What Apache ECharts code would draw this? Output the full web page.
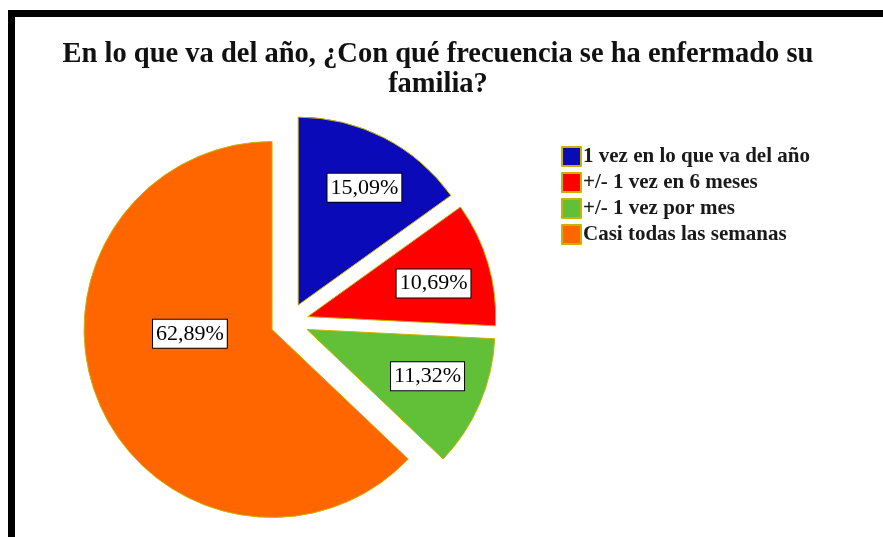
<!DOCTYPE html>
<html>
<head>
<meta charset="utf-8">
<script src="https://cdn.jsdelivr.net/npm/echarts@6/dist/echarts.min.js"></script>
<style>
html, body { margin: 0; padding: 0; background: #fff; }
#wrap { position: relative; width: 883px; height: 537px; overflow: hidden; }
/* marco negro: solo arriba e izquierda, la imagen esta recortada */
#frame { position: absolute; left: 8px; top: 10px; width: 900px; height: 600px;
         border-top: 7px solid #000; border-left: 7px solid #000; }
#chart { position: absolute; left: 0; top: 0; width: 883px; height: 537px; }
</style>
</head>
<body>
<div id="wrap">
  <div id="frame"></div>
  <div id="chart"></div>
</div>
<script>
// datos
const categories = ['1 vez en lo que va del año', '+/- 1 vez en 6 meses', '+/- 1 vez por mes', 'Casi todas las semanas'];
const percents = [15.09, 10.69, 11.32, 62.89];
const colors = ['#0a0ab8', '#ff0000', '#62bf38', '#ff6600'];

// layout
const pieCenter = [289.5, 322];
const labelScale = [1.36, 1.32, 1.33, 1.0];
const labelDy = [0, 3, -4, -34];
const labelDx = [6, 3, 2, 7];

const chart = echarts.init(document.getElementById('chart'));
chart.setOption({
    animation: false,
    title: {
        text: 'En lo que va del año, ¿Con qué frecuencia se ha enfermado su\nfamilia?',
        left: 433,
        top: 35,
        textAlign: 'center',
        textStyle: {
            fontFamily: 'Liberation Serif',
            fontWeight: 'bold',
            fontSize: 28.5,
            lineHeight: 30,
            color: '#111'
        }
    },
    legend: {
        orient: 'vertical',
        left: 561,
        top: 146,
        padding: 0,
        itemWidth: 19,
        itemHeight: 19,
        itemGap: 5,
        icon: 'rect',
        selectedMode: false,
        textStyle: {
            fontFamily: 'Liberation Serif',
            fontWeight: 'bold',
            fontSize: 21,
            color: '#1a1a1a',
            padding: [0, 0, 0, -3]
        },
        data: categories
    },
    series: [
        {
            type: 'pie',
            center: pieCenter,
            radius: 188,
            startAngle: 90,
            clockwise: true,
            selectedMode: 'multiple',
            selectedOffset: 19,
            avoidLabelOverlap: false,
            itemStyle: {
                borderColor: '#c8b400',
                borderWidth: 1
            },
            emphasis: { disabled: true },
            label: {
                position: 'inside',
                formatter: function (p) {
                    return p.value.toFixed(2).replace('.', ',') + '%';
                },
                fontFamily: 'Liberation Serif',
                fontSize: 22,
                color: '#000',
                backgroundColor: '#fff',
                borderColor: '#000',
                borderWidth: 1,
                padding: [4, 3, 2, 3]
            },
            labelLine: { show: false },
            labelLayout: function (params) {
                const r = params.labelRect;
                const i = params.dataIndex;
                const k = labelScale[i];
                const lx = r.x + r.width / 2 - pieCenter[0];
                const ly = r.y + r.height / 2 - pieCenter[1];
                return { dx: lx * (k - 1) + labelDx[i], dy: ly * (k - 1) + labelDy[i] };
            },
            data: categories.map(function (name, i) {
                return {
                    name: name,
                    value: percents[i],
                    selected: true,
                    itemStyle: { color: colors[i] }
                };
            })
        }
    ]
});
</script>
</body>
</html>
